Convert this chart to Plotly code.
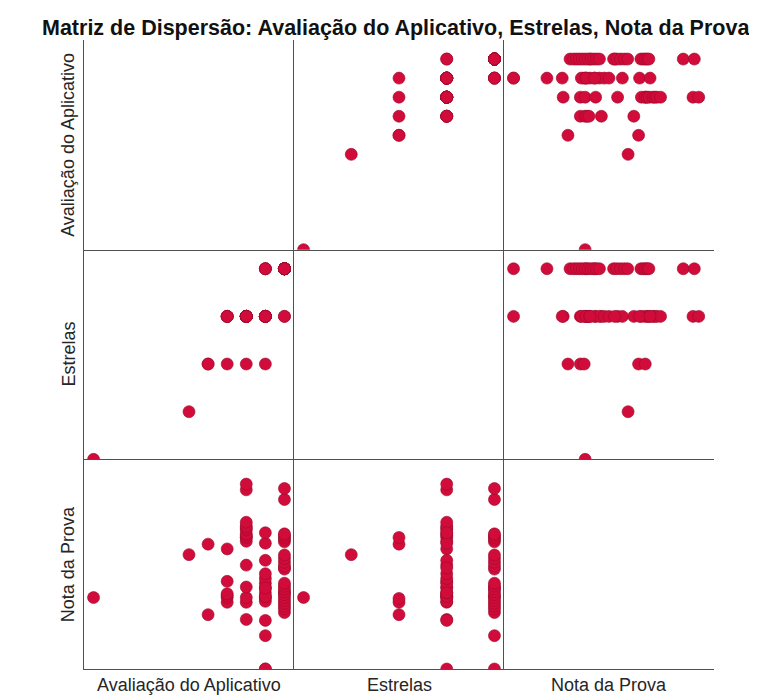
import plotly.graph_objects as go
from plotly.subplots import make_subplots

# Observations (one entry per respondent)
avaliacao = ([0, 5, 6, 6, 7]
             + [7] * 5
             + [8]
             + [8] * 15
             + [9]
             + [9] * 12
             + [9] * 4
             + [10] * 2
             + [10] * 23)
estrelas = ([0, 1, 2, 2, 2]
            + [3] * 5
            + [2]
            + [3] * 15
            + [2]
            + [3] * 12
            + [4] * 4
            + [3] * 2
            + [4] * 23)
nota = ([3.75, 6.0, 2.85, 6.55, 3.5]
        + [3.75, 3.85, 3.95, 4.6, 6.3]
        + [6.9]
        + [2.6, 3.5, 3.75, 4.3, 5.45, 6.7, 6.9, 7.0, 7.1, 7.3, 7.4, 7.5, 7.7, 9.4, 9.7]
        + [3.7]
        + [0.0, 2.55, 3.55, 3.8, 4.0, 4.25, 4.5, 4.75, 5.0, 5.7, 6.6, 7.15]
        + [0.0, 1.75, 3.8, 4.25]
        + [4.0, 5.3]
        + [2.96, 3.15, 3.3, 3.45, 3.6, 3.75, 3.9, 4.05, 4.2, 4.35, 4.5,
           5.24, 5.4, 5.6, 5.8, 5.98, 6.67, 6.8, 6.9, 7.0, 7.09, 8.89, 9.47])

var_names = ["Avaliação do Aplicativo", "Estrelas", "Nota da Prova"]
var_data = [avaliacao, estrelas, nota]
var_scale = [(0, 10), (0, 4), (0, 10)]
title_text = "Matriz de Dispersão: Avaliação do Aplicativo, Estrelas, Nota da Prova"

# page body has an 8px margin; figure sized to the visible window
W, H = 749, 687
ML, MR, MT, MB = 76, 43, 32, 26
PW, PH = W - ML - MR, H - MT - MB

fig = make_subplots(rows=3, cols=3, horizontal_spacing=0, vertical_spacing=0)

marker = dict(size=12, color="#D20C3A", line=dict(color="#9A0A2C", width=0.6))
line_col = "#505050"

for i in range(3):
    for j in range(3):
        if i != j:
            fig.add_trace(go.Scatter(x=var_data[j], y=var_data[i], mode="markers",
                                     marker=marker, hoverinfo="x+y", showlegend=False),
                          row=i + 1, col=j + 1)
        else:
            fig.add_trace(go.Scatter(x=[None], y=[None], mode="markers",
                                     hoverinfo="skip", showlegend=False),
                          row=i + 1, col=j + 1)
        lo, hi = var_scale[j]
        span = hi - lo
        fig.update_xaxes(range=[lo - 0.05 * span, hi + 0.05 * span], showline=True,
                         linecolor=line_col, linewidth=1, showgrid=False, zeroline=False,
                         showticklabels=False, ticks="", mirror=False, row=i + 1, col=j + 1)
        lo, hi = var_scale[i]
        span = hi - lo
        fig.update_yaxes(range=[lo, hi + 0.1 * span], showline=True,
                         linecolor=line_col, linewidth=1, showgrid=False, zeroline=False,
                         showticklabels=False, ticks="", mirror=False, row=i + 1, col=j + 1)

font_family = "Liberation Sans, Arial, sans-serif"
annotations = []
for k, name in enumerate(var_names):
    yc = 1 - (k + 0.5) / 3
    annotations.append(dict(text=name, xref="paper", yref="paper",
                            x=(60 - ML) / PW, y=yc, xanchor="center", yanchor="middle",
                            textangle=-90, showarrow=False,
                            font=dict(family=font_family, size=18, color="#262626")))
    xc = (k + 0.5) / 3
    annotations.append(dict(text=name, xref="paper", yref="paper",
                            x=xc, y=-(677 - (H - MB)) / PH, xanchor="center", yanchor="middle",
                            showarrow=False,
                            font=dict(family=font_family, size=18, color="#262626")))

annotations.append(dict(text="<b>" + title_text + "</b>", xref="paper", yref="paper",
                        x=(388 - ML) / PW, y=1 + (MT - 20) / PH, xanchor="center", yanchor="middle",
                        showarrow=False,
                        font=dict(family=font_family, size=21.5, color="#111111")))

fig.update_layout(width=W, height=H, margin=dict(l=ML, r=MR, t=MT, b=MB),
                  paper_bgcolor="white", plot_bgcolor="white",
                  annotations=annotations, showlegend=False)

fig.write_html("out.html")
